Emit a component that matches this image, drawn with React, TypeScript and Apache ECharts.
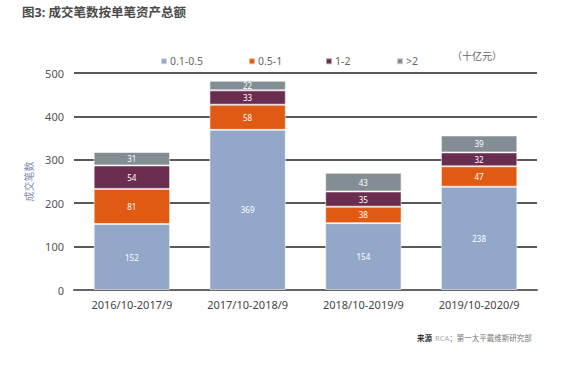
import React, { useEffect, useRef } from "react";
import * as echarts from "echarts";

const categories = ["2016/10-2017/9", "2017/10-2018/9", "2018/10-2019/9", "2019/10-2020/9"];
const seriesNames = ["0.1-0.5", "0.5-1", "1-2", ">2"];
const s1 = [152, 369, 154, 238];
const s2 = [81, 58, 38, 47];
const s3 = [54, 33, 35, 32];
const s4 = [31, 22, 43, 39];
const colors = ["#93a8c9", "#e05a14", "#6b2d4f", "#838d94"];
const yTicks = [0, 100, 200, 300, 400, 500];

const FONT = "'Noto Sans', 'Noto Sans CJK SC', sans-serif";

export default function App() {
  const ref = useRef<HTMLDivElement>(null);
  useEffect(() => {
    if (!ref.current) return;
    const chart = echarts.init(ref.current, undefined, { renderer: "svg" });
    const data = [s1, s2, s3, s4];
    const legendLefts = [155, 243, 320, 391];
    chart.setOption({
      animation: false,
      textStyle: { fontFamily: FONT },
      grid: { left: 74, right: 32, top: 73, bottom: 82 },
      legend: seriesNames.map((n, i) => ({
        data: [n],
        left: legendLefts[i],
        top: 51,
        icon: "rect",
        itemWidth: 6,
        itemHeight: 6,
        itemGap: 4,
        textStyle: { fontSize: 10.5, color: "#666", fontFamily: FONT, padding: [0, 0, 0, -2] },
      })),
      xAxis: {
        type: "category",
        data: categories,
        axisLine: { show: true, lineStyle: { color: "#666", width: 2 } },
        axisTick: { show: false },
        axisLabel: { fontSize: 11, color: "#444", margin: 9, fontFamily: FONT },
      },
      yAxis: {
        type: "value",
        min: yTicks[0],
        max: yTicks[yTicks.length - 1],
        interval: 100,
        name: "成交笔数",
        nameLocation: "middle",
        nameRotate: 90,
        nameGap: 37,
        nameTextStyle: { fontSize: 10, color: "#7b8db0", fontFamily: FONT },
        axisLine: { show: false },
        axisTick: { show: false },
        axisLabel: { fontSize: 11, color: "#555", margin: 10, fontFamily: FONT },
        splitLine: { show: true, lineStyle: { color: "#222", width: 1.5 } },
      },
      series: seriesNames.map((n, i) => ({
        name: n,
        type: "bar",
        stack: "total",
        barWidth: "66%",
        data: data[i],
        itemStyle: { color: colors[i], borderColor: "rgba(255,255,255,0.55)", borderWidth: 1 },
        label: {
          show: true,
          position: "inside",
          color: "#fff",
          fontSize: 8,
          fontFamily: FONT,
        },
      })),
      graphic: [
        {
          type: "text",
          left: 22,
          top: 6,
          style: {
            text: "图3: 成交笔数按单笔资产总额",
            fontSize: 12.5,
            fontWeight: "bold",
            fill: "#4a4a4a",
            fontFamily: FONT,
          },
        },
        {
          type: "text",
          left: 452,
          top: 51,
          style: { text: "（十亿元）", fontSize: 10, fill: "#666", fontFamily: FONT },
        },
        {
          type: "text",
          left: 417,
          top: 332,
          style: {
            text: "{b|来源} {c|RCA}{d|；第一太平戴维斯研究部}",
            fontFamily: FONT,
            rich: {
              b: { fontSize: 7.5, fontWeight: "bold", fill: "#333", fontFamily: FONT },
              c: { fontSize: 7.5, fill: "#aaa", fontFamily: FONT },
              d: { fontSize: 7.5, fill: "#777", fontFamily: FONT },
            },
          },
        },
      ],
    });
    return () => chart.dispose();
  }, []);
  return (
    <div
      ref={ref}
      style={{ position: "fixed", left: 0, top: 0, width: 569, height: 372, background: "#fff" }}
    />
  );
}
